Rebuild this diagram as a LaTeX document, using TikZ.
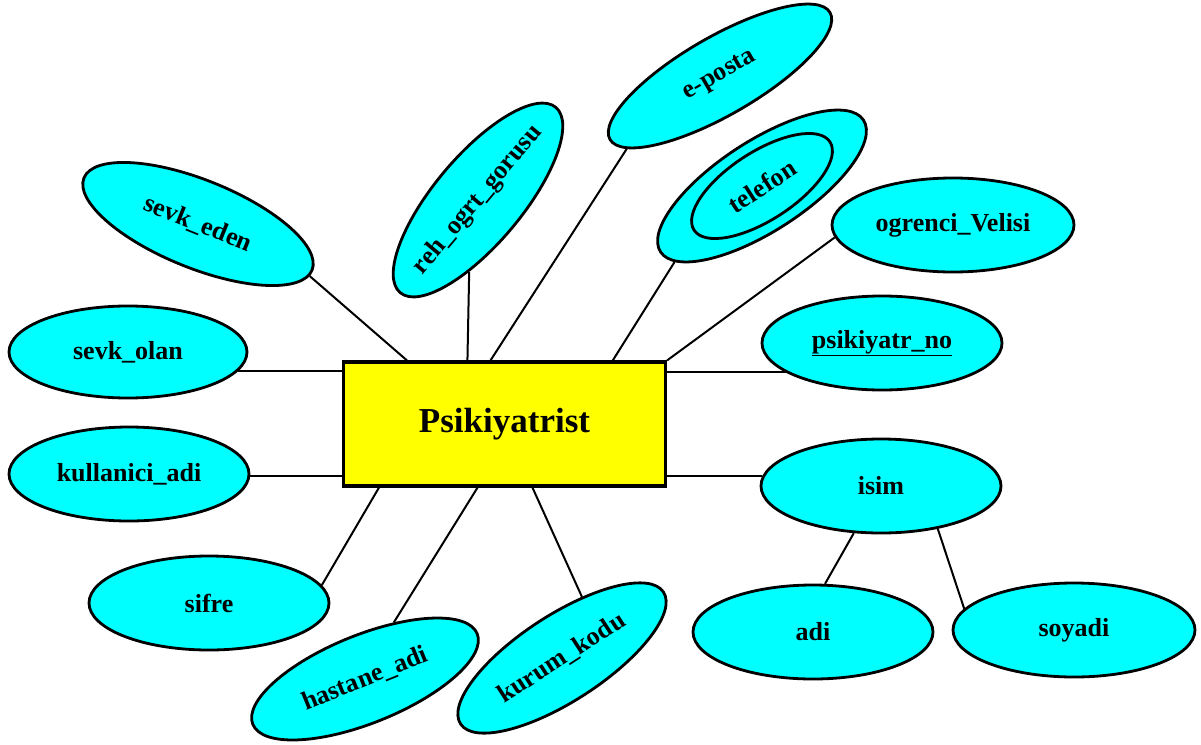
\documentclass[tikz,border=0pt]{standalone}
\usepackage{fontspec}
\setmainfont{Liberation Serif}
\usetikzlibrary{shapes.geometric,calc,backgrounds}
\definecolor{attrcyan}{RGB}{0,255,255}
\definecolor{entyellow}{RGB}{255,255,0}
\begin{document}
\begin{tikzpicture}[x=1pt,y=1pt,
  attr/.style={ellipse, draw=black, line width=2.8pt, fill=attrcyan, inner sep=0pt,
    font=\fontsize{26}{30}\selectfont\bfseries, minimum width=240pt, minimum height=94pt},
  entity/.style={rectangle, draw=black, line width=3.2pt, fill=entyellow,
    minimum width=322pt, minimum height=124pt, font=\fontsize{35}{40}\selectfont\bfseries},
  conn/.style={line width=2pt, draw=black}]
\useasboundingbox (0,0) rectangle (1201,-744);

\node[entity] (P) at (504.5,-424) {Psikiyatrist};

\node[attr, rotate=-22, minimum width=246pt, minimum height=88pt] (seden) at (198,-224) {sevk\_eden};
\node[attr, minimum width=238pt, minimum height=92pt] (solan) at (128,-352) {sevk\_olan};
\node[attr] (kadi) at (129,-474) {kullanici\_adi};
\node[attr] (sifre) at (209,-603) {sifre};
\node[attr, rotate=22, minimum width=242pt, minimum height=88pt] (hadi) at (365,-679) {hastane\_adi};
\node[attr, rotate=33, minimum width=242pt, minimum height=86pt] (kkodu) at (562,-658) {kurum\_kodu};
\node[attr, rotate=50, minimum width=242pt, minimum height=88pt, inner xsep=-10pt] (reh) at (478,-200) {reh\_ogrt\_gorusu};
\node[attr, rotate=30, minimum width=254pt, minimum height=78pt] (eposta) at (720,-76) {e-posta};
\node[attr, rotate=33, minimum width=242pt, minimum height=90pt] (tel) at (762,-186) {};
\node[attr, rotate=33, minimum width=162pt, minimum height=68pt] (telin) at (762,-186) {telefon};
\node[attr, minimum width=242pt] (veli) at (953,-225) {ogrenci\_Velisi};
\node[attr] (pno) at (882,-343) {\underline{psikiyatr\_no}};
\node[attr] (isim) at (881,-486) {isim};
\node[attr] (adi) at (813,-632) {adi};
\node[attr, minimum width=242pt] (soyadi) at (1074,-630) {soyadi};

\begin{scope}[on background layer]
\draw[conn] (seden.-3) -- ($(P.north west)!0.20!(P.north east)$);
\draw[conn] (reh.-147) -- ($(P.north west)!0.386!(P.north east)$);
\draw[conn] (eposta.-172) -- ($(P.north west)!0.457!(P.north east)$);
\draw[conn] (tel.-172) -- ($(P.north west)!0.833!(P.north east)$);
\draw[conn] (veli.-174) -- (P.north east);
\draw[conn] (pno.-163) -- (pno.-163 -| P.east);
\draw[conn] (isim.175) -- (isim.175 -| P.east);
\draw[conn] (solan.-10) -- (solan.-10 -| P.west);
\draw[conn] (kadi.-1) -- (kadi.-1 -| P.west);
\draw[conn] (sifre.9) -- ($(P.south west)!0.114!(P.south east)$);
\draw[conn] (hadi.41) -- ($(P.south west)!0.417!(P.south east)$);
\draw[conn] (kkodu.39) -- ($(P.south west)!0.586!(P.south east)$);
\draw[conn] (isim.-120) -- (adi.76);
\draw[conn] (isim.-37) -- (soyadi.169);
\end{scope}
\end{tikzpicture}
\end{document}
